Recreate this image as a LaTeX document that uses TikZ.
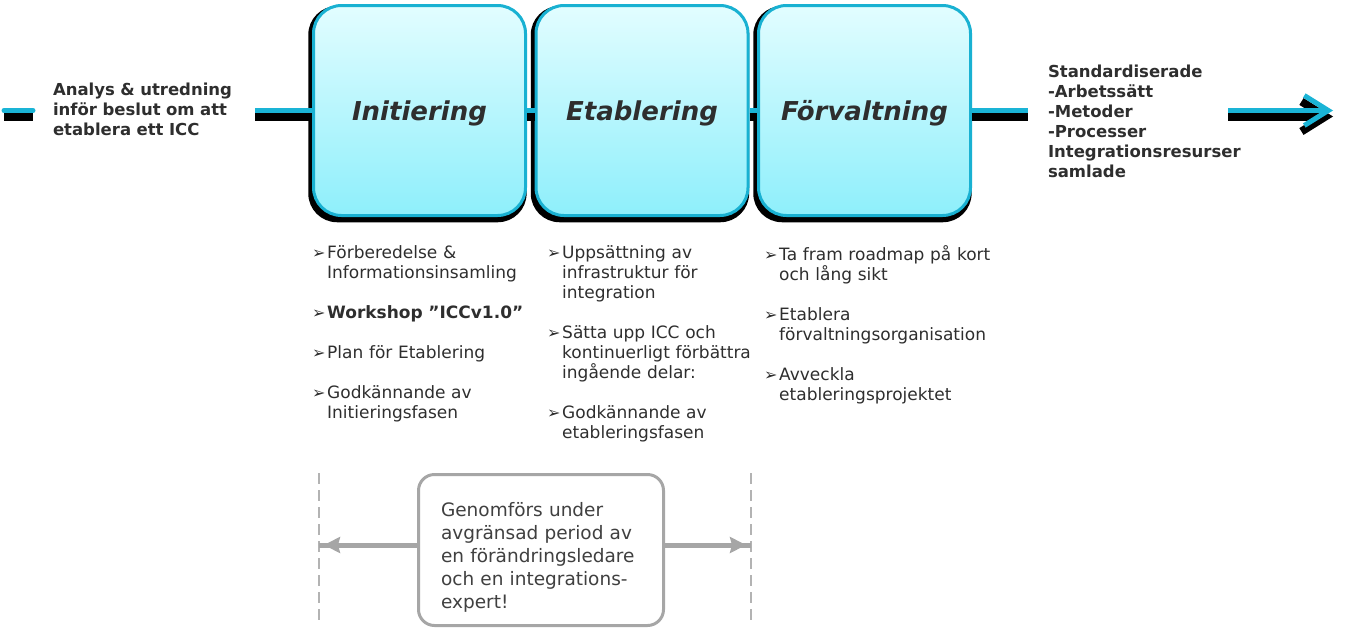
\documentclass[tikz,border=0pt]{standalone}
\usepackage{fontspec}
\setmainfont{DejaVu Sans}
\usepackage{tikz}
\usetikzlibrary{positioning,shadows,arrows.meta}

\definecolor{iccline}{HTML}{1AB4D6}
\definecolor{phaseborder}{HTML}{19B1D2}
\definecolor{phasetop}{HTML}{E2FDFF}
\definecolor{phasebot}{HTML}{8EEFFB}
\definecolor{icctext}{HTML}{2E2E2E}
\definecolor{notetext}{HTML}{404040}
\definecolor{notegray}{HTML}{A6A6A6}

\newcommand{\bul}{{\fontsize{16}{16}\selectfont ➢}}
\newcommand{\nl}{\hfil\break}
\newcommand{\phaseitem}[1]{\hangindent=15pt\hangafter=1\noindent\makebox[15pt][l]{\bul}#1\par}
\newcommand{\itemgap}{\vskip20pt}

\begin{document}
\begin{tikzpicture}[x=1pt,y=-1pt,font=\fontsize{17}{20}\selectfont,text=icctext,
    phase/.style={draw=phaseborder,line width=3pt,rounded corners=28pt,
      minimum width=212pt,minimum height=210pt,top color=phasetop,bottom color=phasebot,
      font=\fontsize{26}{30}\selectfont\bfseries\itshape,text depth=0pt,
      drop shadow={shadow xshift=-2pt,shadow yshift=-3.5pt,shadow scale=1.03,opacity=1,fill=black}},
    flow/.style={line width=5pt,draw=iccline,
      preaction={draw=black,line width=8pt,transform canvas={yshift=-6pt}}},
    side/.style={text width=#1,inner sep=0pt,outer xsep=20pt,anchor=base west,font=\fontsize{16.5}{20}\selectfont\bfseries},
    tasks/.style={text width=240pt,inner sep=0pt,anchor=base west},
    guide/.style={draw=notegray!85,line width=2pt,dash pattern=on 11pt off 6pt},
    span/.style={draw=notegray,line width=5pt,shorten >=5pt,-{Stealth[length=16pt,width=16pt,inset=2pt]}},
    note/.style={draw=notegray,line width=3pt,rounded corners=16pt,fill=white,
      minimum width=245pt,minimum height=151pt,text width=200pt,inner sep=0pt,
      text=notetext,font=\fontsize{18.5}{23}\selectfont}]
  \useasboundingbox (0,0) rectangle (1367,630);

  % phases
  \node[phase] (init) at (419.5,110.5) {Initiering};
  \node[phase] (etab) [right=7.5pt of init] {Etablering};
  \node[phase] (forv) [right=7.5pt of etab] {Förvaltning};

  % before and after
  \node[side=182pt] (ana) at (33,95) {Analys \& utredning\\inför beslut om att\\etablera ett ICC};
  \node[side=200pt] (res) at (1028,77) {Standardiserade\\-Arbetssätt\\-Metoder\\-Processer\\Integrationsresurser\\samlade};

  \coordinate (lstub) at (4,110.5);
  \coordinate (out0) at (1228,110.5);
  \coordinate (out1) at (1333,110.5);

  \draw[flow,line cap=round] (lstub) -- (lstub -| ana.west);
  \draw[flow] (ana.east |- init.west) -- (init.west);
  \draw[flow] (init.east) -- (etab.west);
  \draw[flow] (etab.east) -- (forv.west);
  \draw[flow] (forv.east) -- (forv.east -| res.west);
  \draw[flow,-{Straight Barb[length=24pt,width=30pt]}] (out0) -- (out1);

  % activities per phase
  \node[tasks] (initlist) at (312,258) {%
    \phaseitem{Förberedelse \&\nl Informationsinsamling}\itemgap
    \phaseitem{\textbf{Workshop ”ICCv1.0”}}\itemgap
    \phaseitem{Plan för Etablering}\itemgap
    \phaseitem{Godkännande av\nl Initieringsfasen}};
  \node[tasks] (etablist) at (547,258) {%
    \phaseitem{Uppsättning av\nl infrastruktur för\nl integration}\itemgap
    \phaseitem{Sätta upp ICC och\nl kontinuerligt förbättra\nl ingående delar:}\itemgap
    \phaseitem{Godkännande av\nl etableringsfasen}};
  \node[tasks] (forvlist) at (764,260) {%
    \phaseitem{Ta fram roadmap på kort\nl och lång sikt}\itemgap
    \phaseitem{Etablera\nl förvaltningsorganisation}\itemgap
    \phaseitem{Avveckla\nl etableringsprojektet}};

  % period
  \coordinate (g1t) at (319,473);
  \coordinate (g1b) at (319,622);
  \coordinate (g2t) at (751,473);
  \coordinate (g2b) at (751,622);
  \draw[guide] (g1t) -- (g1b);
  \draw[guide] (g2t) -- (g2b);
  \draw[span] (g1t |- 0,545) -- (g2t |- 0,545);
  \draw[span] (g2t |- 0,545) -- (g1t |- 0,545);
  \node[note] (period) at (541,550) {\rule{0pt}{28pt}Genomförs under\\avgränsad period av\\en förändringsledare\\och en integrations-\\expert!};
\end{tikzpicture}
\end{document}
